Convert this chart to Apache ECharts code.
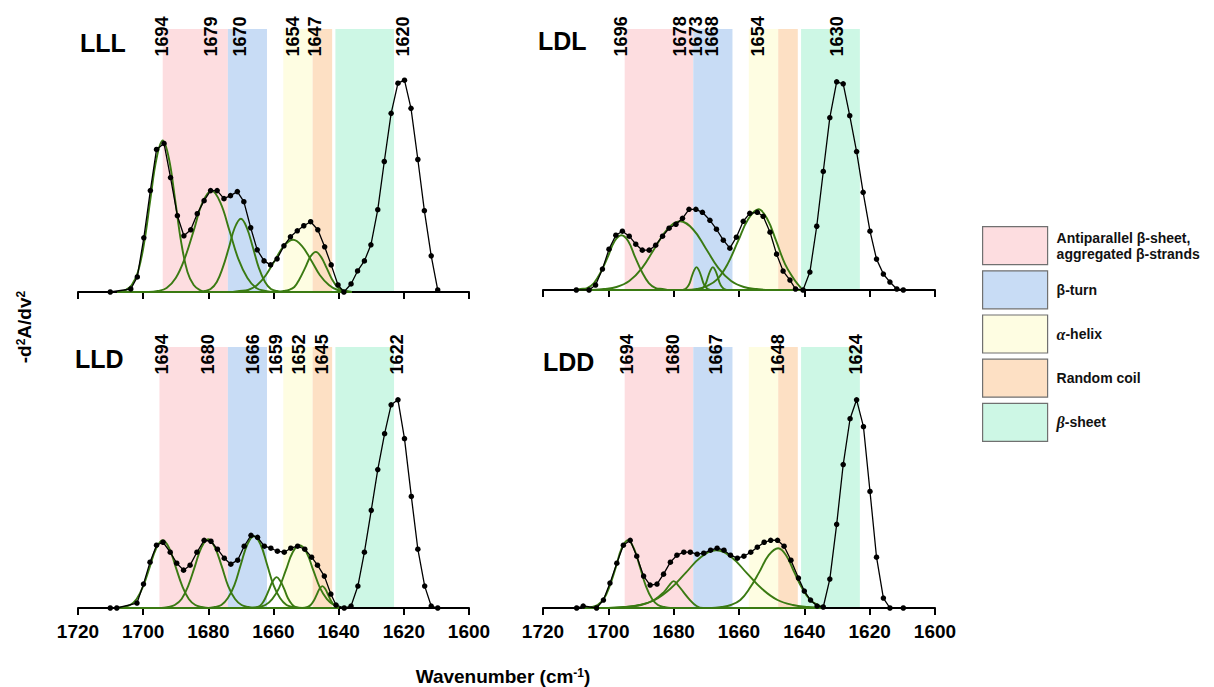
<!DOCTYPE html>
<html>
<head>
<meta charset="utf-8">
<script src="https://cdn.jsdelivr.net/npm/echarts@6/dist/echarts.min.js"></script>
<style>
  html, body { margin: 0; padding: 0; background: #ffffff; }
  #chart { width: 1214px; height: 687px; }
</style>
</head>
<body>
<div id="chart"></div>
<script>
// Second-derivative amide I spectra (-d²A/dν², arbitrary units) of four peptides,
// with the fitted band components and the secondary-structure regions.

const panelNames = ['LLL', 'LDL', 'LLD', 'LDD'];

// Band assignment regions [from, to] in cm-1
const antiparallelStart = [1694, 1695, 1695, 1695];
const antiparallelEnd = 1674;
const betaTurnBand = [1674, 1662];
const alphaHelixBand = [1657, 1648];
const randomCoilBand = [1648, 1642];
const betaSheetBand = [1641, 1623];

const legendNames = [
  'Antiparallel β-sheet,\naggregated β-strands',
  'β-turn',
  'α-helix',
  'Random coil',
  'β-sheet'
];

// Labelled component positions (cm-1)
const lllPeaks = [1694, 1679, 1670, 1654, 1647, 1620];
const ldlPeaks = [1696, 1678, 1673, 1668, 1654, 1630];
const lldPeaks = [1694, 1680, 1666, 1659, 1652, 1645, 1622];
const lddPeaks = [1694, 1680, 1667, 1648, 1624];

// Measured second-derivative spectra [wavenumber, value]
const lllSpectrum = [
  [1710.1,0],[1703.8,3],[1701.8,15],[1699.8,54],[1697.8,101],[1695.9,142],[1693.6,148],[1691.6,114],
  [1689.5,76],[1687.5,56],[1685.4,62],[1683.4,78],[1681.3,91],[1679.3,101],[1677.3,101],[1675.2,93],
  [1673.2,96],[1671.1,100],[1669.1,90],[1667.0,64],[1665.0,42],[1662.9,31],[1660.9,27],[1658.9,33],
  [1656.8,46],[1654.8,55],[1652.7,61],[1650.7,66],[1648.6,70],[1646.4,62],[1644.3,45],[1642.3,27],
  [1640.2,7],[1638.4,0],[1636.2,8],[1634.2,21],[1632.1,31],[1630.1,47],[1628.0,82],[1626.0,130],
  [1623.9,178],[1621.8,208],[1619.8,211],[1617.8,183],[1615.7,132],[1613.7,81],[1611.6,36],[1609.6,2]
];
const ldlSpectrum = [
  [1709.8,0],[1705.9,0],[1703.9,5],[1701.8,21],[1699.8,41],[1697.7,55],[1695.7,59],[1693.6,54],
  [1691.6,46],[1689.6,40],[1687.5,40],[1685.5,45],[1683.4,54],[1681.4,62],[1679.3,66],[1677.3,72],
  [1675.3,81],[1673.2,81],[1671.2,78],[1668.9,70],[1666.9,61],[1664.8,50],[1662.8,42],[1660.8,53],
  [1658.7,69],[1656.7,77],[1654.4,78],[1652.6,74],[1650.5,58],[1648.5,36],[1646.5,19],[1644.4,10],
  [1642.7,1],[1640.4,0],[1638.3,18],[1636.2,64],[1634.2,119],[1632.2,173],[1630.1,209],[1628.1,207],
  [1626.1,175],[1624.0,139],[1622.0,98],[1619.9,59],[1617.9,31],[1615.8,16],[1613.8,8],[1611.7,1],[1609.7,0]
];
const lldSpectrum = [
  [1710.1,0],[1708.1,0],[1701.9,5],[1699.9,24],[1697.9,46],[1695.9,63],[1693.9,66],[1691.7,56],
  [1689.7,45],[1687.6,38],[1685.6,43],[1683.5,56],[1681.3,68],[1679.2,67],[1677.2,59],[1675.1,50],
  [1673.1,44],[1671.0,48],[1669.0,62],[1666.9,73],[1664.9,71],[1662.8,62],[1660.8,60],[1658.8,57],
  [1656.7,56],[1654.7,60],[1652.6,62],[1650.4,59],[1648.3,51],[1646.5,43],[1644.4,32],[1642.4,14],
  [1640.8,3],[1638.3,0],[1636.2,2],[1634.1,22],[1632.1,56],[1630.0,98],[1628.0,139],[1625.9,175],
  [1623.9,204],[1621.8,209],[1619.8,170],[1617.7,112],[1615.7,59],[1613.6,22],[1611.6,2],[1609.6,0]
];
const lddSpectrum = [
  [1709.7,0],[1707.7,2],[1703.6,0],[1701.5,8],[1699.5,25],[1697.4,45],[1695.4,63],[1693.3,68],
  [1691.3,52],[1689.2,32],[1687.2,23],[1685.1,24],[1683.1,34],[1681.0,46],[1679.0,53],[1676.9,56],
  [1674.9,56],[1672.8,54],[1670.8,55],[1668.7,58],[1666.7,60],[1664.6,58],[1662.6,53],[1660.5,50],
  [1658.5,52],[1656.4,56],[1654.4,61],[1652.3,66],[1650.3,68],[1648.2,68],[1646.2,62],[1644.1,48],
  [1641.8,30],[1640.0,17],[1638.1,8],[1636.1,2],[1634.2,1],[1632.2,29],[1630.1,84],[1628.1,144],
  [1626.0,190],[1624.0,209],[1621.9,182],[1619.9,117],[1617.9,51],[1615.8,10],[1613.8,0],[1609.7,0]
];

// Fitted band components [wavenumber, value]
const lllFits = [
  [[1708,0],[1707.3,0],[1705.4,2],[1703.5,7],[1701.6,20],[1699.7,49],[1697.8,92],[1695.9,133],[1694,151],
   [1692.1,133],[1690.2,92],[1688.3,49],[1686.4,20],[1684.5,7],[1682.6,2],[1680.7,0],[1636,0]],
  [[1708,0],[1698.3,0],[1695.5,1],[1692.8,4],[1690,14],[1687.3,33],[1684.5,61],[1681.8,89],[1679,101],
   [1676.3,89],[1673.5,61],[1670.8,33],[1668,14],[1665.3,4],[1662.5,1],[1659.8,0],[1636,0]],
  [[1708,0],[1683,0],[1681.1,1],[1679.3,3],[1677.4,10],[1675.6,24],[1673.7,44],[1671.9,64],[1670,73],
   [1668.2,64],[1666.3,44],[1664.5,24],[1662.6,10],[1660.8,3],[1658.9,1],[1657,0],[1636,0]],
  [[1708,0],[1673.3,0],[1670.5,1],[1667.8,2],[1665,7],[1662.3,17],[1659.5,32],[1656.8,46],[1654,52],
   [1651.3,46],[1648.5,32],[1645.8,17],[1643,7],[1640.3,2],[1637.5,1],[1636,0]],
  [[1708,0],[1658.6,0],[1656.9,1],[1655.3,2],[1653.6,5],[1652,13],[1650.3,24],[1648.7,35],[1647,40],
   [1645.4,35],[1643.7,24],[1642.1,13],[1640.4,5],[1638.8,2],[1637.1,0],[1636,0]]
];
const ldlFits = [
  [[1709.8,0],[1708.6,1],[1706.5,2],[1704.4,7],[1702.3,18],[1700.2,33],[1698.1,49],[1696,55],
   [1693.9,49],[1691.8,33],[1689.7,18],[1687.6,7],[1685.5,2],[1683.4,1],[1681.3,0],[1641,0]],
  [[1709.8,0],[1705.3,0],[1701.4,1],[1697.5,3],[1693.6,9],[1689.7,22],[1685.8,42],[1681.9,61],[1678,69],
   [1674.1,61],[1670.2,42],[1666.3,22],[1662.4,9],[1658.5,3],[1654.6,1],[1650.7,0],[1641,0]],
  [[1709.8,0],[1677.9,0],[1676.5,1],[1675.8,3],[1675.1,7],[1674.4,14],[1673.7,20],[1673,23],
   [1672.3,20],[1671.6,14],[1670.9,7],[1670.2,3],[1669.5,1],[1668.1,0],[1641,0]],
  [[1709.8,0],[1672.9,0],[1671.5,1],[1670.8,3],[1670.1,7],[1669.4,14],[1668.7,20],[1668,23],
   [1667.3,20],[1666.6,14],[1665.9,7],[1665.2,3],[1664.5,1],[1663.1,0],[1641,0]],
  [[1709.8,0],[1676.1,0],[1672.9,1],[1669.8,4],[1666.6,11],[1663.5,26],[1660.3,49],[1657.2,71],[1654,81],
   [1651.3,71],[1648.6,49],[1645.9,26],[1643.2,11],[1641.8,5],[1641,2]]
];
const lldFits = [
  [[1708,0],[1706,1],[1704,3],[1702,9],[1700,22],[1698,41],[1696,60],[1694,68],
   [1692,60],[1690,41],[1688,22],[1686,9],[1684,3],[1682,1],[1680,0],[1640,0]],
  [[1708,0],[1694.4,0],[1692.3,1],[1690.3,3],[1688.2,9],[1686.2,22],[1684.1,42],[1682.1,61],[1680,69],
   [1678,61],[1675.9,42],[1673.9,22],[1671.8,9],[1669.8,3],[1667.7,1],[1665.7,0],[1640,0]],
  [[1708,0],[1680,0],[1678,1],[1676,3],[1674,10],[1672,23],[1670,44],[1668,64],[1666,72],
   [1664,64],[1662,44],[1660,23],[1658,10],[1656,3],[1654,1],[1652,0],[1640,0]],
  [[1708,0],[1667,0],[1664.8,1],[1663.6,4],[1662.5,10],[1661.3,19],[1660.2,27],[1659,31],
   [1657.9,27],[1656.7,19],[1655.6,10],[1654.4,4],[1653.3,1],[1651,0],[1640,0]],
  [[1708,0],[1666.7,0],[1664.6,1],[1662.5,3],[1660.4,9],[1658.3,20],[1656.2,38],[1654.1,56],[1652,63],
   [1649.9,56],[1647.8,38],[1645.7,20],[1643.6,9],[1641.5,3],[1640,1]],
  [[1708,0],[1651.3,0],[1649.5,1],[1648.6,3],[1647.7,7],[1646.8,13],[1645.9,19],[1645,22],
   [1644.1,19],[1643.2,13],[1642.3,7],[1641.4,3],[1640.5,1],[1640,0]]
];
const lddFits = [
  [[1708,0],[1707,0],[1705.1,1],[1703.3,3],[1701.4,9],[1699.6,22],[1697.7,41],[1695.9,60],[1694,68],
   [1692.2,60],[1690.3,41],[1688.5,22],[1686.6,9],[1684.8,3],[1682.9,1],[1681,0],[1634,0]],
  [[1708,0],[1700,0],[1695,1],[1690,3],[1686,8],[1683,16],[1681.3,23],[1680,27],
   [1678.7,23],[1677,16],[1675,8],[1673,2],[1671,0],[1634,0]],
  [[1708,0],[1699.9,0],[1695.2,1],[1690.5,3],[1685.8,8],[1681.1,19],[1676.4,35],[1671.7,51],[1667,58],
   [1662.3,51],[1657.6,35],[1652.9,19],[1648.2,8],[1643.5,3],[1638.8,1],[1634.1,0]],
  [[1708,0],[1668.3,0],[1665.4,1],[1662.5,3],[1659.6,8],[1656.7,20],[1653.8,36],[1650.9,53],[1648,60],
   [1645.6,53],[1643.1,36],[1640.7,20],[1638.2,8],[1635.8,3],[1634,0]]
];

// ---- styling ----
const FONT = '"Liberation Sans", Arial, Helvetica, sans-serif';
const SERIF = '"Liberation Serif", "Times New Roman", serif';
const FIT_GREEN = '#3a7a12';
const BAND_COLORS = ['#fddde0', '#c8dcf5', '#fefde2', '#fde0c4', '#cdf7e5'];
const Y_MAX = 262;
const LABEL_LEVEL = 234;

const spectra = [lllSpectrum, ldlSpectrum, lldSpectrum, lddSpectrum];
const fits = [lllFits, ldlFits, lldFits, lddFits];
const peaks = [lllPeaks, ldlPeaks, lldPeaks, lddPeaks];

const gridBoxes = [
  { left: 78,  top: 29,  width: 391, height: 263 },
  { left: 543, top: 29,  width: 392, height: 261 },
  { left: 78,  top: 347, width: 391, height: 261 },
  { left: 543, top: 347, width: 392, height: 261 }
];
const titleSpots = [[80, 43], [538, 41], [75, 359], [543, 362]];

const chart = echarts.init(document.getElementById('chart'), null, { renderer: 'svg' });

const grids = gridBoxes.map(b => Object.assign({ outerBoundsMode: 'none', containLabel: false }, b));

const xAxes = panelNames.map((n, i) => ({
  type: 'value',
  gridIndex: i,
  min: 1600,
  max: 1720,
  interval: 20,
  inverse: true,
  z: 1,
  axisLine: { show: true, onZero: false, lineStyle: { color: '#000', width: 2 } },
  axisTick: { show: true, length: 7, lineStyle: { color: '#000', width: 2 } },
  axisLabel: {
    show: i >= 2,
    margin: 14,
    fontSize: 19,
    fontWeight: 'bold',
    fontFamily: FONT,
    color: '#000',
    formatter: v => String(v)
  },
  splitLine: { show: false }
}));

const yAxes = panelNames.map((n, i) => ({
  type: 'value',
  gridIndex: i,
  min: 0,
  max: Y_MAX,
  show: false
}));

function bandAreas(i) {
  const ranges = [
    [antiparallelStart[i], antiparallelEnd],
    betaTurnBand, alphaHelixBand, randomCoilBand, betaSheetBand
  ];
  return ranges.map((r, k) => [
    { xAxis: r[0], itemStyle: { color: BAND_COLORS[k], opacity: 1 } },
    { xAxis: r[1] }
  ]);
}

const series = [];
panelNames.forEach((name, i) => {
  // structure regions
  series.push({
    type: 'line',
    xAxisIndex: i, yAxisIndex: i,
    data: [[1720, 0]],
    symbol: 'none',
    lineStyle: { opacity: 0 },
    silent: true,
    z: 0,
    markArea: { silent: true, data: bandAreas(i) }
  });
  // fitted components
  fits[i].forEach(comp => {
    series.push({
      type: 'line',
      xAxisIndex: i, yAxisIndex: i,
      data: comp,
      smooth: 0.4,
      symbol: 'none',
      lineStyle: { color: FIT_GREEN, width: 1.9 },
      silent: true,
      z: 3
    });
  });
  // measured spectrum
  series.push({
    type: 'line',
    xAxisIndex: i, yAxisIndex: i,
    data: spectra[i],
    symbol: 'circle',
    symbolSize: 5.5,
    showAllSymbol: true,
    itemStyle: { color: '#000' },
    lineStyle: { color: '#000', width: 1.3 },
    silent: true,
    z: 4
  });
  // component position labels
  series.push({
    type: 'scatter',
    xAxisIndex: i, yAxisIndex: i,
    data: peaks[i].map(p => [p, LABEL_LEVEL]),
    symbolSize: 1,
    itemStyle: { color: 'rgba(0,0,0,0)' },
    silent: true,
    clip: false,
    z: 5,
    label: {
      show: true,
      position: [0, 0],
      rotate: 90,
      align: 'left',
      verticalAlign: 'middle',
      formatter: p => String(p.value[0]),
      fontSize: 18,
      fontWeight: 'bold',
      fontFamily: FONT,
      color: '#000',
      opacity: 1,
      textBorderWidth: 0
    }
  });
});

// legend entries for the structure regions
legendNames.forEach((name, k) => {
  series.push({
    type: 'bar',
    name: name,
    xAxisIndex: 0, yAxisIndex: 0,
    data: [],
    itemStyle: { color: BAND_COLORS[k] }
  });
});

const legendText = {
  'Antiparallel β-sheet,\naggregated β-strands': 'Antiparallel β-sheet,\naggregated β-strands',
  'β-turn': 'β-turn',
  'α-helix': '{it|α}-helix',
  'Random coil': 'Random coil',
  'β-sheet': '{it|β}-sheet'
};

const option = {
  backgroundColor: '#ffffff',
  animation: false,
  grid: grids,
  xAxis: xAxes,
  yAxis: yAxes,
  series: series,
  legend: {
    orient: 'vertical',
    left: 982,
    top: 226,
    padding: 0,
    itemWidth: 65,
    itemHeight: 38,
    itemGap: 5,
    icon: 'rect',
    selectedMode: false,
    data: legendNames,
    itemStyle: { borderColor: '#707070', borderWidth: 1.2 },
    formatter: n => legendText[n],
    textStyle: {
      fontSize: 14,
      fontWeight: 'bold',
      fontFamily: FONT,
      color: '#111',
      lineHeight: 16,
      padding: [0, 0, 0, 4],
      rich: {
        it: { fontSize: 16, fontStyle: 'italic', fontWeight: 'bold', fontFamily: SERIF, color: '#111' }
      }
    }
  },
  title: [{
    text: 'Wavenumber (cm{sup|-1})',
    left: 503,
    top: 667,
    textAlign: 'center',
    padding: 0,
    textStyle: {
      fontSize: 19,
      fontWeight: 'bold',
      fontFamily: FONT,
      color: '#000',
      rich: {
        sup: { fontSize: 12, fontWeight: 'bold', fontFamily: FONT, color: '#000', verticalAlign: 'top', lineHeight: 19 }
      }
    }
  }],
  graphic: panelNames.map((n, i) => ({
    type: 'text',
    x: titleSpots[i][0],
    y: titleSpots[i][1],
    silent: true,
    style: {
      text: n,
      font: 'bold 25px ' + FONT,
      fill: '#000',
      textAlign: 'left',
      textVerticalAlign: 'middle'
    }
  })).concat([{
    type: 'text',
    x: 24,
    y: 327,
    rotation: Math.PI / 2,
    silent: true,
    style: {
      text: '-d{sup|2}A/dv{sup|2}',
      font: 'bold 19px ' + FONT,
      fill: '#000',
      textAlign: 'center',
      textVerticalAlign: 'middle',
      rich: {
        sup: { fontSize: 12, fontWeight: 'bold', fontFamily: FONT, fill: '#000', verticalAlign: 'top', lineHeight: 19 }
      }
    }
  }])
};

chart.setOption(option);
</script>
</body>
</html>
